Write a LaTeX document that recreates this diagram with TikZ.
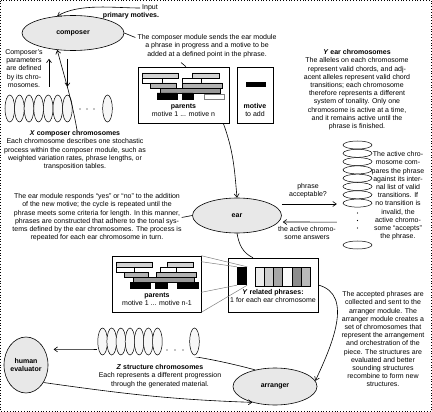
\documentclass[tikz,border=0pt]{standalone}
\usepackage{fontspec}
\setmainfont{Liberation Sans}
\usetikzlibrary{shapes.geometric,arrows.meta,calc}
\begin{document}
\begin{tikzpicture}[x=1pt,y=-1pt,
  every node/.style={font=\fontsize{7}{8.2}\selectfont,inner sep=0pt},
  txt/.style={align=center,anchor=north},
  big/.style={ellipse,draw,fill=gray!18,line width=0.6pt,font=\fontsize{7}{8.2}\selectfont\bfseries,align=center},
  chromv/.style={ellipse,draw,fill=gray!6,minimum width=9.6pt,minimum height=27pt,line width=0.5pt},
  chromh/.style={ellipse,draw,fill=white,minimum width=29pt,minimum height=8pt,line width=0.5pt},
  box/.style={draw,fill=white,line width=0.6pt},
  bar/.style={draw=black,line width=0.4pt},
  arr/.style={-{Straight Barb[length=3.5pt,width=5pt]},line width=0.6pt},
  con/.style={line width=0.6pt},
  zl/.style={draw=gray,line width=0.5pt},
]
\useasboundingbox (0,0) rectangle (432,412);
\draw[dotted,line width=0.8pt] (0.6,0.6) rectangle (431.4,411.4);

% main modules
\node[big,minimum width=102pt,minimum height=35pt] (composer) at (73,33) {composer};
\node[big,minimum width=89pt,minimum height=35pt] (ear) at (237,215.5) {ear};
\node[big,minimum width=84pt,minimum height=37pt] (arranger) at (275,386.5) {arranger};
\node[big,minimum width=44pt,minimum height=56pt] (human) at (26,365) {human\\evaluator};

% texts
\node (inputA) at (150,8) {Input};
\node[font=\fontsize{7}{8.2}\selectfont\bfseries] (inputB) at (131,16) {primary motives.};
\node[txt] (sendtext) at (207,34.5) {The composer module sends the ear module\\a phrase in progress and a motive to be\\added at a defined point in the phrase.};
\node[txt] (params) at (24,49.5) {Composer's\\parameters\\are defined\\by its chro-\\mosomes.};
\node[txt] (ytext) at (357,49.5) {\textbf{\textit{Y} ear chromosomes}\\The alleles on each chromosome\\represent valid chords, and adj-\\acent alleles represent valid chord\\transitions; each chromosome\\therefore represents a different\\system of tonality. Only one\\chromosome is active at a time,\\and it remains active until the\\phrase is finished.};
\node[txt] (xtext) at (75,130.5) {\textbf{\textit{X} composer chromosomes}\\Each chromosome describes one stochastic\\process within the composer module, such as\\weighted variation rates, phrase lengths, or\\transposition tables.};
\node[txt] (eartext) at (97,193.5) {The ear module responds ``yes'' or ``no'' to the addition\\of the new motive; the cycle is repeated until the\\phrase meets some criteria for length. In this manner,\\phrases are constructed that adhere to the tonal sys-\\tems defined by the ear chromosomes. The process is\\repeated for each ear chromosome in turn.};
\node[txt] (acctext) at (308,183.5) {phrase\\acceptable?};
\node[txt] (answtext) at (307,226.5) {the active chromo-\\some answers};
\node[txt] (activetext) at (398,151.5) {The active chro-\\mosome com-\\pares the phrase\\against its inter-\\nal list of valid\\transitions. If\\no transition is\\invalid, the\\active chromo-\\some ``accepts''\\the phrase.};
\node[txt] (arrtext) at (383,291.5) {The accepted phrases are\\collected and sent to the\\arranger module. The\\arranger module creates a\\set of chromosomes that\\represent the arrangement\\and orchestration of the\\piece. The structures are\\evaluated and better\\sounding structures\\recombine to form new\\structures.};
\node[txt] (ztext) at (160,364.5) {\textbf{\textit{Z} structure chromosomes}\\Each represents a different progression\\through the generated material.};

% boxes
\node[box,minimum width=91pt,minimum height=56pt] (parents1) at (183.5,95) {};
\node[box,minimum width=36pt,minimum height=56pt] (motivebox) at (255,95) {};
\node[box,minimum width=89pt,minimum height=56pt] (parents2) at (156.5,284) {};
\node[box,minimum width=90pt,minimum height=54pt] (related) at (273,285) {};

% parents 1 bars
\filldraw[bar,fill=gray!35] (142,73) rectangle (178,78) (192,73) rectangle (219,78);
\filldraw[bar,fill=white] (142,78) rectangle (162,83) (182,78) rectangle (201,83);
\filldraw[bar,fill=gray!60] (150,83) rectangle (176,88) (182,83) rectangle (222,88);
\filldraw[bar,fill=gray!80] (160,88) rectangle (220,93);
\filldraw[bar,fill=black] (157,93) rectangle (177,99) (182,93) rectangle (193,99);
\filldraw[bar,draw=gray,fill=white] (204,94) rectangle (224,99);
\fill (246,82) rectangle (266,87);
\node[txt] (p1lab) at (183.5,103.5) {\textbf{parents}\\motive 1 ... motive n};
\node[txt] (mlab) at (255,103.5) {\textbf{motive}\\to add};

% parents 2 bars
\filldraw[bar,fill=gray!35] (116,262) rectangle (152,267) (167,262) rectangle (193,267);
\filldraw[bar,fill=white] (116,267) rectangle (134,272) (160,267) rectangle (176,272);
\filldraw[bar,fill=gray!60] (124,272) rectangle (148,277) (156,272) rectangle (196,277);
\filldraw[bar,fill=gray!80] (133,277) rectangle (194,282);
\filldraw[bar,fill=black] (130,282) rectangle (150,288) (155,282) rectangle (167,288) (177,282) rectangle (198,288);
\node[txt] (p2lab) at (157,292.5) {\textbf{parents}\\motive 1 ... motive n-1};

% related phrases
\foreach \c [count=\k from 0] in {gray!15,gray!40,gray!70,gray!4,gray!90,gray!55}
  \filldraw[bar,fill=\c] ({255+9.2*\k},267) rectangle ({264.2+9.2*\k},286);
\node[txt] (rlab) at (273,289.5) {\textbf{\textit{Y} related phrases:}\\1 for each ear chromosome};
\node[fill=black,minimum width=10pt,minimum height=18pt] (bsel) at (242,276) {};
\draw[zl] (parents2.north east) -- (bsel.north east);
\draw[zl] ($(parents2.north east)+(0,6)$) -- (bsel.north west);
\draw[zl] ($(parents2.south east)+(0,-20)$) -- (bsel.south west);
\draw[zl] (parents2.south east) -- (bsel.south east);

% X composer chromosomes
\foreach \i/\x in {1/9.8,2/19.4,3/29,4/38.6,5/48.2,6/57.8,7/67.4,8/107.5}
  \node[chromv] (x\i) at (\x,108.5) {};
\foreach \x in {80,87,94} \fill (\x,109) circle (0.7);

% Y ear chromosomes
\foreach \i in {1,...,8}
  \node[chromh] (y\i) at (357.5,{145+8.3*(\i-1)}) {};
\node[chromh] (y9) at (357.5,245) {};
\foreach \y in {213,220.5,228} \fill (357.5,\y) circle (0.7);

% connectors
\draw[arr] ($(inputA.west)+(-2,0)$) to[out=180,in=30,looseness=0.8] (composer.133);
\draw[con] (composer.east) -- ($(sendtext.north west)+(-2,3)$);
\coordinate (sendtip) at (181,62.5);
\draw[con] (sendtip) -- ($(parents1.north)+(2.5,0)$);
\draw[arr] ($(parents1.south east)+(-6,0)$) to[out=-70,in=95] (ear.north);
\draw[arr] ($(ear.east)+(0,-11.5)$) -- ($(y8.west)+(-6,0.9)$);
\draw[arr] ($(y8.west)+(-6,19)$) -- ($(ear.east)+(1,6.5)$);
\draw[con] (ear.west) -- (eartext.east);
\draw[con] (ear.south) to[out=-80,in=155] ($(related.north)+(-20,0)$);
\draw[arr] (related.east) to[out=-15,in=65] (arranger.8);
\draw[arr,shorten >=9pt] (arranger.140) to[out=165,in=0] (human.40);
\draw[arr] (human.-45) to[out=-8,in=178] (arranger.-145);
\draw[arr] ($(x5.north)+(0.8,-8)$) -- ($(x5.north |- composer.south)+(0.8,8)$);
\draw[arr] ($(x7.north |- composer.south)+(0,8)$) -- ($(x7.north)+(0,-8)$);
\draw[arr] ($(xtext.north)+(2,-0.5)$) to[out=100,in=-75] (composer.-133);

% Z structure chromosomes (drawn over the connector)
\fill[white] (97,326) rectangle (200,357);
\foreach \i in {1,...,7}
  \node[chromv] (z\i) at ({102.6+9.14*(\i-1)},341.5) {};
\node[chromv] (z8) at (194.5,341.5) {};
\foreach \x in {167,175,183} \fill (\x,350) circle (0.7);
\end{tikzpicture}
\end{document}
